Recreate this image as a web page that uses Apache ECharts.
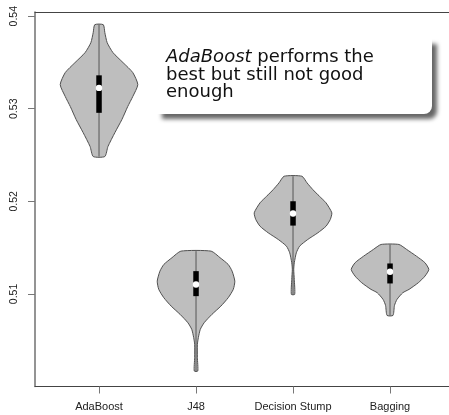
<!DOCTYPE html>
<html>
<head>
<meta charset="utf-8">
<script src="https://cdn.jsdelivr.net/npm/echarts@6/dist/echarts.min.js"></script>
<style>html,body{margin:0;padding:0;background:#fff}#c{width:449px;height:415px}</style>
</head>
<body>
<div id="c"></div>
<script>
// ---- data ----
const categories = ['AdaBoost', 'J48', 'Decision Stump', 'Bagging'];
const yTicks = [0.51, 0.52, 0.53, 0.54];

// violin outlines: y values and relative density (1 = widest point)
const adaY = [0.53908, 0.53822, 0.53714, 0.53606, 0.53498, 0.53391, 0.53261, 0.53132, 0.53024, 0.52884, 0.52743, 0.52592, 0.52484];
const adaD = [0.11, 0.15, 0.21, 0.36, 0.62, 0.87, 1.0, 0.87, 0.74, 0.59, 0.41, 0.23, 0.15];

const j48Y = [0.51462, 0.51391, 0.51318, 0.51246, 0.51138, 0.51049, 0.50959, 0.50868, 0.50779, 0.50689, 0.50617, 0.50528, 0.50455, 0.50312, 0.50167];
const j48D = [0.39, 0.62, 0.83, 0.93, 1.0, 0.96, 0.83, 0.64, 0.41, 0.21, 0.11, 0.06, 0.035, 0.035, 0.045];

const dsY = [0.52271, 0.52200, 0.52127, 0.52055, 0.51984, 0.51876, 0.51804, 0.51731, 0.51660, 0.51588, 0.51516, 0.51444, 0.51337, 0.51264, 0.51156, 0.50995];
const dsD = [0.23, 0.36, 0.51, 0.68, 0.85, 1.0, 0.96, 0.85, 0.64, 0.38, 0.17, 0.085, 0.033, 0.018, 0.033, 0.043];

const bagY = [0.51534, 0.51480, 0.51408, 0.51337, 0.51264, 0.51192, 0.51121, 0.51049, 0.51013, 0.50941, 0.50876, 0.50768];
const bagD = [0.23, 0.43, 0.68, 0.90, 1.0, 0.90, 0.73, 0.49, 0.33, 0.18, 0.115, 0.077];

// box stats: first quartile, median, third quartile
const q1 = [0.52956, 0.50976, 0.51738, 0.51113];
const medians = [0.53225, 0.51102, 0.51868, 0.51239];
const q3 = [0.53361, 0.51246, 0.52001, 0.51329];

// ---- build ----
const violinY = [adaY, j48Y, dsY, bagY];
const violinD = [adaD, j48D, dsD, bagD];
const HALF = 0.4; // max half-width in category units

function renderItem(params, api) {
  const i = params.dataIndex;
  const pos = api.value(0);
  const ys = violinY[i], ds = violinD[i];
  const pts = [];
  for (let k = 0; k < ys.length; k++) pts.push(api.coord([pos + HALF * ds[k], ys[k]]));
  for (let k = ys.length - 1; k >= 0; k--) pts.push(api.coord([pos - HALF * ds[k], ys[k]]));
  const top = api.coord([pos, ys[0]]);
  const bot = api.coord([pos, ys[ys.length - 1]]);
  const b3 = api.coord([pos, q3[i]]);
  const b1 = api.coord([pos, q1[i]]);
  const md = api.coord([pos, medians[i]]);
  const bw = 5.5;
  return {
    type: 'group',
    children: [
      { type: 'polygon', shape: { points: pts, smooth: 0.2 },
        style: { fill: '#BEBEBE', stroke: '#505050', lineWidth: 1 } },
      { type: 'line', shape: { x1: top[0], y1: top[1], x2: bot[0], y2: bot[1] },
        style: { stroke: '#555', lineWidth: 1 } },
      { type: 'rect', shape: { x: b3[0] - bw / 2, y: b3[1], width: bw, height: b1[1] - b3[1] },
        style: { fill: '#000' } },
      { type: 'circle', shape: { cx: md[0], cy: md[1], r: 3.2 }, style: { fill: '#fff' } }
    ]
  };
}

const XMIN = 0.34, XMAX = 4.608;
const chart = echarts.init(document.getElementById('c'), null, { renderer: 'canvas' });
chart.setOption({
  animation: false,
  backgroundColor: '#fff',
  grid: { left: 35, right: 0, top: 12, bottom: 28.5 },
  xAxis: [{
    type: 'value', min: XMIN, max: XMAX,
    axisLine: { onZero: false, lineStyle: { color: '#444', width: 1 } },
    splitLine: { show: false },
    axisTick: { customValues: [1, 2, 3, 4], length: 7, lineStyle: { color: '#777' } },
    axisLabel: { customValues: [1, 2, 3, 4], formatter: v => categories[Math.round(v) - 1],
      fontSize: 11, color: '#222', margin: 15, fontFamily: 'Liberation Sans' }
  }, {
    type: 'value', position: 'top', min: XMIN, max: XMAX,
    axisLine: { show: true, onZero: false, lineStyle: { color: '#444', width: 1 } },
    axisTick: { show: false }, axisLabel: { show: false }, splitLine: { show: false }
  }],
  yAxis: {
    type: 'value', min: 0.5, max: 0.54045,
    axisLine: { show: true, onZero: false, lineStyle: { color: '#707070', width: 1.5 } },
    splitLine: { show: false },
    axisTick: { show: true, customValues: yTicks, length: 7, lineStyle: { color: '#777' } },
    axisLabel: { customValues: yTicks, rotate: 90, formatter: v => v.toFixed(2),
      fontSize: 10.5, color: '#222', margin: 15, fontFamily: 'Liberation Sans' }
  },
  series: [{
    type: 'custom', renderItem: renderItem, clip: false,
    data: categories.map((c, i) => [i + 1])
  }],
  graphic: [{
    type: 'group', z: 100,
    children: [
      { type: 'rect', shape: { x: 157, y: 39, width: 275, height: 75, r: [0, 0, 8, 0] },
        style: { fill: '#fff', shadowBlur: 4, shadowOffsetX: 5, shadowOffsetY: 5, shadowColor: 'rgba(0,0,0,0.6)' } },
      { type: 'text', x: 166, y: 49,
        style: {
          text: '{it|AdaBoost} performs the\nbest but still not good\nenough',
          fontSize: 18, fontFamily: 'DejaVu Sans', lineHeight: 17.5, fill: '#111',
          verticalAlign: 'top', align: 'left',
          rich: { it: { fontStyle: 'italic', fontSize: 18, fontFamily: 'DejaVu Sans', lineHeight: 17.5, fill: '#111' } }
        } }
    ]
  }]
});
</script>
</body>
</html>
